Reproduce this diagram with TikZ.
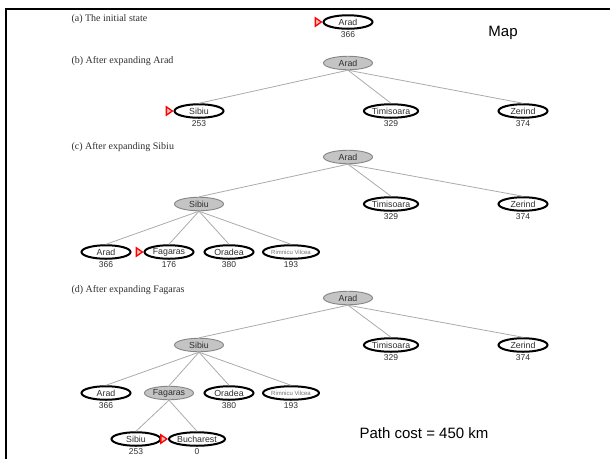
\documentclass[tikz,border=0pt]{standalone}
\usepackage{fontspec}
\setmainfont{Liberation Serif}
\newfontfamily\arial{Liberation Sans}
\usetikzlibrary{shapes.geometric,positioning}
\definecolor{openfill}{HTML}{FFFFFF}
\definecolor{closedfill}{HTML}{C4C4C4}
\definecolor{closededge}{HTML}{858585}
\definecolor{edgegray}{HTML}{ABABAB}
\definecolor{txtgray}{HTML}{2E2E2E}
\begin{document}
\begin{tikzpicture}[x=1pt,y=-1pt,
  city/.style={ellipse, inner sep=0pt, minimum width=49pt, minimum height=13.5pt,
    font=\arial\fontsize{8.8}{8.8}\selectfont, text=txtgray},
  fringe/.style={city, draw=black, line width=2pt, fill=openfill},
  expanded/.style={city, draw=closededge, line width=0.9pt, fill=closedfill},
  tiny/.style={font=\arial\fontsize{6}{6}\selectfont, text=black!55},
  hval/.style={font=\arial\fontsize{8.5}{8.5}\selectfont, text=txtgray, inner sep=0.5pt, below=1pt of #1},
  edge/.style={draw=edgegray, line width=0.8pt},
  nextmark/.style={isosceles triangle, isosceles triangle apex angle=70, draw=red,
    line width=1.3pt, fill=red!25, inner sep=0pt, minimum height=6pt, minimum width=8pt,
    anchor=apex},
  stage/.style={font=\fontsize{10}{10}\selectfont, anchor=west, text=txtgray},
  big/.style={font=\arial\fontsize{15}{15}\selectfont}
]
\useasboundingbox (0,0) rectangle (610,459);
% frame
\draw[line width=2.4pt] (6,459) -- (6,9) -- (610,9);

% (a)
\node[stage] (la) at (68,19) {(a) The initial state};
\node[fringe] (a0) at (348,22) {Arad};
\node[hval=a0] {366};
\node[nextmark] (ma) at (a0.west) {};
\node[big] (map) at (503,33) {Map};

% (b)
\node[stage] (lb) at (68,61) {(b) After expanding Arad};
\node[expanded] (b0) at (348,63) {Arad};
\node[fringe] (b1) at (199,111) {Sibiu};
\node[fringe] (b2) at (391,111) {Timisoara};
\node[fringe] (b3) at (523,111) {Zerind};
\node[hval=b1] {253};
\node[hval=b2] {329};
\node[hval=b3] {374};
\node[nextmark] (mb) at (b1.west) {};
\foreach \c in {b1,b2,b3} \draw[edge] (b0.south) -- (\c.north);

% (c)
\node[stage] (lc) at (68,147) {(c) After expanding Sibiu};
\node[expanded] (c0) at (348,157) {Arad};
\node[expanded] (c1) at (199,204) {Sibiu};
\node[fringe] (c2) at (391,204) {Timisoara};
\node[fringe] (c3) at (523,204) {Zerind};
\node[hval=c2] {329};
\node[hval=c3] {374};
\node[fringe] (c11) at (106,252) {Arad};
\node[fringe] (c12) at (169,252) {Fagaras};
\node[fringe] (c13) at (229,252) {Oradea};
\node[fringe, tiny] (c14) at (291,252) {Rimnicu Vilcea};
\node[hval=c11] {366};
\node[hval=c12] {176};
\node[hval=c13] {380};
\node[hval=c14] {193};
\node[nextmark] (mc) at (c12.west) {};
\foreach \c in {c1,c2,c3} \draw[edge] (c0.south) -- (\c.north);
\foreach \c in {c11,c12,c13,c14} \draw[edge] (c1.south) -- (\c.north);

% (d)
\node[stage] (ld) at (68,290) {(d) After expanding Fagaras};
\node[expanded] (d0) at (348,298) {Arad};
\node[expanded] (d1) at (199,345) {Sibiu};
\node[fringe] (d2) at (391,345) {Timisoara};
\node[fringe] (d3) at (523,345) {Zerind};
\node[hval=d2] {329};
\node[hval=d3] {374};
\node[fringe] (d11) at (106,393) {Arad};
\node[expanded] (d12) at (169,393) {Fagaras};
\node[fringe] (d13) at (229,393) {Oradea};
\node[fringe, tiny] (d14) at (291,393) {Rimnicu Vilcea};
\node[hval=d11] {366};
\node[hval=d13] {380};
\node[hval=d14] {193};
\node[fringe] (d121) at (136,439) {Sibiu};
\node[fringe] (d122) at (197,439) {Bucharest};
\node[hval=d121] {253};
\node[hval=d122] {0};
\node[nextmark] (md) at (d122.west) {};
\foreach \c in {d1,d2,d3} \draw[edge] (d0.south) -- (\c.north);
\foreach \c in {d11,d12,d13,d14} \draw[edge] (d1.south) -- (\c.north);
\foreach \c in {d121,d122} \draw[edge] (d12.south) -- (\c.north);

\node[big] (cost) at (424,433) {Path cost = 450 km};
\end{tikzpicture}
\end{document}
